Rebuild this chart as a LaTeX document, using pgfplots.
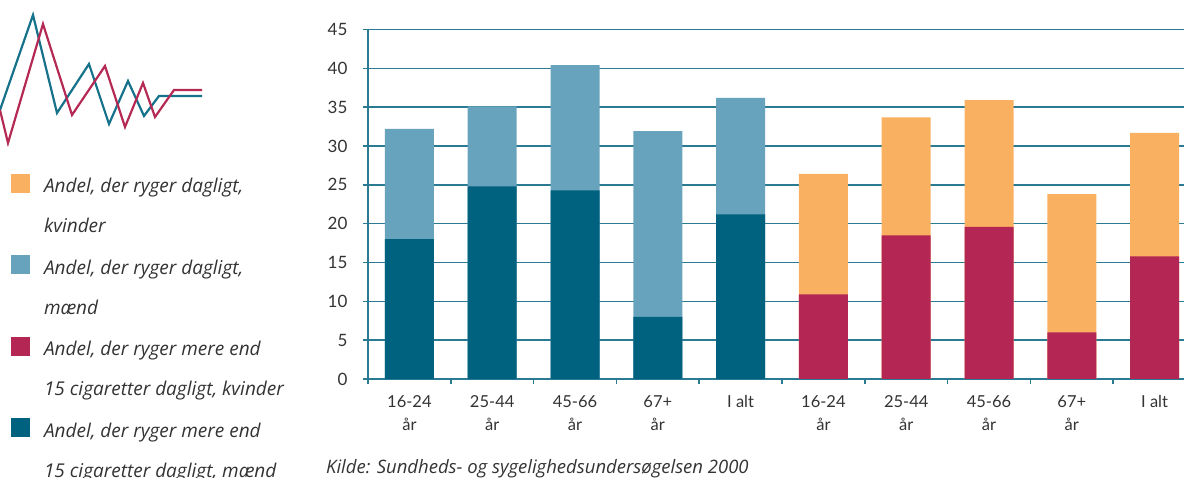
\documentclass[border=0pt]{standalone}
\usepackage{pgfplots}
\pgfplotsset{compat=1.18}
\usepackage{fontspec}
\setmainfont{Lato}
\newfontfamily\notefont{Open Sans}

\definecolor{kvDag}{HTML}{F9B061}
\definecolor{mDag}{HTML}{68A3BD}
\definecolor{kvFem}{HTML}{B42653}
\definecolor{mFem}{HTML}{00627F}
\definecolor{gridc}{HTML}{2B7A93}
\definecolor{txt}{HTML}{333333}
\definecolor{logoT}{HTML}{16728A}
\definecolor{logoR}{HTML}{B52A55}

\begin{document}
\begin{tikzpicture}
\useasboundingbox (0pt,0pt) rectangle (1184pt,478pt);

% logo + legend, in a hidden axis that covers the whole picture (1pt = 1px)
\begin{axis}[
    at={(0pt,0pt)}, anchor=south west, scale only axis,
    width=1184pt, height=478pt,
    xmin=0, xmax=1184, ymin=0, ymax=478,
    hide axis, clip=false,
    % legend text baseline is the last line, so lift the square by one line
    legend image code/.code={\fill[#1, draw=none] (0pt,40pt) rectangle (19pt,59pt);},
    legend style={at={(0.0093,0.636)}, anchor=north west,
        draw=none, fill=none, inner sep=0pt, outer sep=0pt,
        row sep=19pt, column sep=12pt,
        cells={anchor=base west, align=left, inner sep=0pt,
            font=\fontsize{19}{40}\selectfont\notefont\itshape, text=txt}},
]
    \addplot[logoT, line width=2.2pt, no markers, forget plot] coordinates
        {(0,368) (33,463) (57,365) (89,414) (109,354) (128,397) (144,362) (159,382) (202,382)};
    \addplot[logoR, line width=2.2pt, no markers, forget plot] coordinates
        {(0,368) (8,335) (43,454) (72,363) (105,412) (125,351) (143,395) (155,361) (174,388) (202,388)};
    \addlegendimage{fill=kvDag, draw=none}
    \addlegendentry{Andel, der ryger dagligt,\\kvinder}
    \addlegendimage{fill=mDag, draw=none}
    \addlegendentry{Andel, der ryger dagligt,\\mænd}
    \addlegendimage{fill=kvFem, draw=none}
    \addlegendentry{Andel, der ryger mere end\\15 cigaretter dagligt, kvinder}
    \addlegendimage{fill=mFem, draw=none}
    \addlegendentry{Andel, der ryger mere end\\15 cigaretter dagligt, mænd}
\end{axis}

\begin{axis}[
    at={(368pt,99pt)}, anchor=south west, scale only axis,
    width=816pt, height=349.5pt,
    xmin=-0.5, xmax=9.355, ymin=0, ymax=45,
    axis x line*=bottom, axis y line*=left,
    axis line style={gridc, line width=1.6pt},
    ytick={0,5,...,45},
    ymajorgrids, grid style={gridc, line width=1.6pt},
    tick align=outside, major tick length=5pt,
    tick style={gridc, line width=1.6pt},
    xtick={-0.5,0.5,...,8.5}, xticklabels={},
    extra x ticks={0,1,2,3,4,5,6,7,8,9},
    extra x tick labels={{16-24\\år},{25-44\\år},{45-66\\år},{67+\\år},{I alt},
        {16-24\\år},{25-44\\år},{45-66\\år},{67+\\år},{I alt}},
    extra x tick style={major tick length=0pt, grid=none},
    xticklabel style={align=center, font=\fontsize{16.5}{23}\selectfont, text=txt, yshift=-13pt},
    yticklabel style={font=\fontsize{17}{20}\selectfont, text=txt, xshift=-12pt},
    /pgf/number format/assume math mode=true,
    clip=false,
]
    \addplot[ybar, bar width=49pt, bar shift=0pt, fill=mDag, draw=none]
        coordinates {(0,32.2) (1,35.1) (2,40.4) (3,31.9) (4,36.2)};
    \addplot[ybar, bar width=49pt, bar shift=0pt, fill=mFem, draw=none]
        coordinates {(0,18.0) (1,24.8) (2,24.3) (3,8.0) (4,21.2)};
    \addplot[ybar, bar width=49pt, bar shift=0pt, fill=kvDag, draw=none]
        coordinates {(5,26.4) (6,33.7) (7,35.9) (8,23.8) (9,31.7)};
    \addplot[ybar, bar width=49pt, bar shift=0pt, fill=kvFem, draw=none]
        coordinates {(5,10.9) (6,18.5) (7,19.6) (8,6.0) (9,15.8)};
\end{axis}

\node[anchor=base west, inner sep=0pt, text=txt, font=\fontsize{18.5}{20}\selectfont\notefont\itshape]
    at (326pt,4pt) {Kilde: Sundheds- og sygelighedsundersøgelsen 2000};
\end{tikzpicture}
\end{document}
